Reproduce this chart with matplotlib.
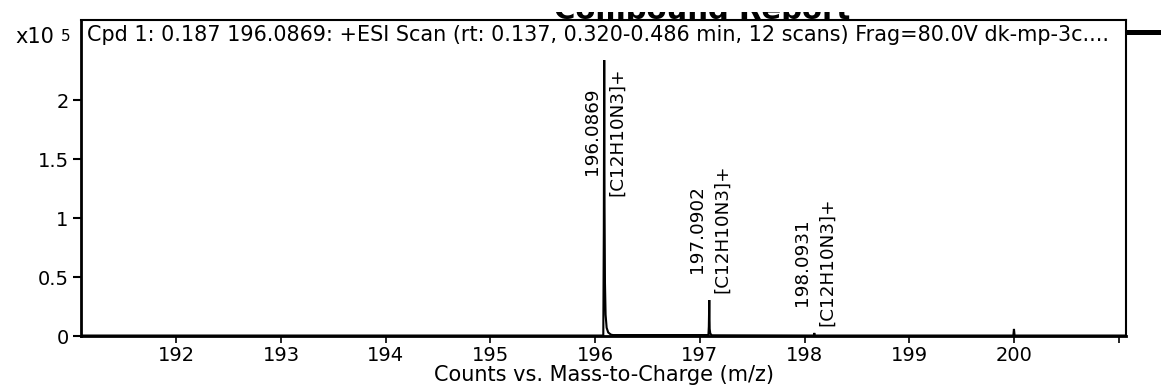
import numpy as np
import matplotlib
matplotlib.use('Agg')
from matplotlib import pyplot as plt
from matplotlib.lines import Line2D

# profile spectrum, intensity in units of 1e5 counts
mz = [191.09, 196.078, 196.083, 196.0869, 196.090, 196.094, 196.100, 196.110, 196.125,
      196.150, 196.170, 197.082, 197.086, 197.0902, 197.094, 197.100, 197.115,
      198.087, 198.0931, 198.099, 199.994, 200.000, 200.006, 201.07]
counts = [0.004, 0.004, 0.9, 2.34, 1.1, 0.45, 0.18, 0.07, 0.03,
          0.012, 0.008, 0.008, 0.08, 0.305, 0.06, 0.02, 0.006,
          0.004, 0.025, 0.004, 0.004, 0.06, 0.004, 0.004]

# labelled peaks
peak_mz = [196.0869, 197.0902, 198.0931]
peak_counts = [2.34, 0.305, 0.025]
peak_formula = ['[C12H10N3]+', '[C12H10N3]+', '[C12H10N3]+']

x_ticks = [192, 193, 194, 195, 196, 197, 198, 199, 200, 201]
x_ticklabels = ['192', '193', '194', '195', '196', '197', '198', '199', '200', '']
y_ticks = [0, 0.5, 1, 1.5, 2]
y_ticklabels = ['0', '0.5', '1', '1.5', '2']

title = 'Cpd 1: 0.187 196.0869: +ESI Scan (rt: 0.137, 0.320-0.486 min, 12 scans) Frag=80.0V dk-mp-3c....'

W, H = 1161, 390
fig = plt.figure(figsize=(W / 100, H / 100), dpi=100)
ax = fig.add_axes([81 / W, 1 - 336 / H, (1126 - 81) / W, (336 - 20) / H])

ax.plot(mz, counts, color='black', lw=1.5, solid_joinstyle='miter')
ax.set_xlim(191.09, 201.07)
ax.set_ylim(0, 2.68)

ax.set_xticks(x_ticks)
ax.set_xticklabels(x_ticklabels, fontsize=14)
ax.set_yticks(y_ticks)
ax.set_yticklabels(y_ticklabels, fontsize=14)
ax.tick_params(axis='x', direction='out', length=5, width=1.2, pad=2)
ax.tick_params(axis='y', direction='out', length=6, width=1.5, pad=3)
ax.set_xlabel('Counts vs. Mass-to-Charge (m/z)', fontsize=15, labelpad=0)

for side in ['left', 'bottom']:
    ax.spines[side].set_linewidth(2.0)
for side in ['top', 'right']:
    ax.spines[side].set_linewidth(1.5)

ax.text(0.006, 0.953, title, transform=ax.transAxes, fontsize=14.95, va='center', ha='left')

# peak annotations: mass on first line, formula on second, rotated
label_ceiling = 2.28
label_span = 1.08
for m, h, f in zip(peak_mz, peak_counts, peak_formula):
    y0 = h + 0.06
    if y0 + label_span > label_ceiling:
        ax.text(m, label_ceiling, '%.4f\n%s' % (m, f), rotation=90, ha='center', va='top',
                fontsize=13.2, linespacing=1.5, multialignment='center')
    else:
        ax.text(m, y0, '%.4f\n%s' % (m, f), rotation=90, ha='center', va='bottom',
                fontsize=13.2, linespacing=1.5, multialignment='center')

# scale factor
fig.text(15 / W, 1 - 43 / H, 'x10', fontsize=15, va='baseline', ha='left')
fig.text(61 / W, 1 - 29 / H, '5', fontsize=11, va='top', ha='left')

# report heading, only its lower edge shows below the page crop
hax = fig.add_axes([555 / W, 1 - 20 / H, 295 / W, 8 / H])
hax.axis('off')
hax.text(0.5, 1 / 8, 'Compound Report', transform=hax.transAxes, fontsize=21,
         fontweight='bold', va='baseline', ha='center', clip_on=True)

fig.add_artist(Line2D([1129 / W, 1], [1 - 32 / H, 1 - 32 / H], color='black', lw=3.6,
                      transform=fig.transFigure))

fig.savefig('out.png', dpi=100)
